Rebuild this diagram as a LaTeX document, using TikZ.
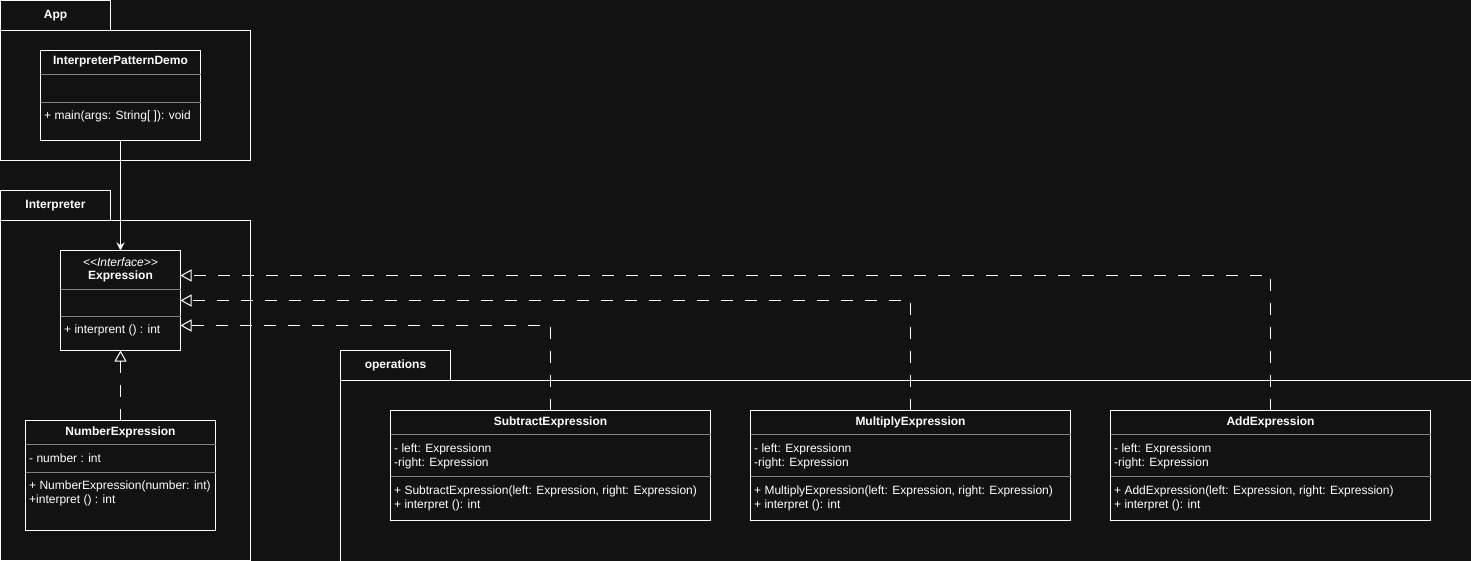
\documentclass[tikz,border=0pt]{standalone}
\usepackage{fontspec}
\setmainfont{Liberation Sans}
\usetikzlibrary{arrows.meta,positioning}

\definecolor{bgdark}{RGB}{18,18,18}
\definecolor{sepgrey}{RGB}{130,130,130}

\tikzset{
    box/.style={draw=white, line width=1pt, inner sep=0pt, outer sep=0pt, anchor=north west},
    pkgtab/.style={box, minimum width=110, minimum height=30, text=white, font=\bfseries\fontsize{12}{14}\selectfont},
    title/.style={text=white, inner sep=0pt, font=\bfseries\fontsize{12}{14}\selectfont},
    member/.style={text=white, inner sep=0pt, anchor=west, text height=9pt, text depth=3pt, font=\fontsize{12}{14}\selectfont},
    sep/.style={draw=sepgrey, line width=1pt},
    assoc/.style={draw=white, line width=1pt, -{Stealth[length=8pt, width=8pt]}},
    realize/.style={draw=white, line width=1pt, dash pattern=on 12pt off 12pt, -{Triangle[open, length=11pt, width=12pt]}},
}

\begin{document}
\begin{tikzpicture}[x=1pt, y=-1pt]
    \fill[bgdark] (0,0) rectangle (1471,561);
    \useasboundingbox (0,0) rectangle (1471,561);
    \clip (0,0) rectangle (1471,561);

    % package App
    \node[pkgtab] (apptab) at (0.5,0.5) {App};
    \node[box, minimum width=250, minimum height=130] (appbody) at (0.5,30.5) {};

    % package Interpreter
    \node[pkgtab] (inttab) at (0.5,190.5) {Interpreter};
    \node[box, minimum width=250, minimum height=340] (intbody) at (0.5,220.5) {};

    % package operations
    \node[pkgtab] (optab) at (340.5,350.5) {operations};
    \node[box, minimum width=1150, minimum height=200] (opbody) at (340.5,380.5) {};

    % class InterpreterPatternDemo
    \node[box, minimum width=160, minimum height=90] (demo) at (40.5,50.5) {};
    \draw[sep] (40.5,74.5) -- (200.5,74.5);
    \draw[sep] (40.5,102.5) -- (200.5,102.5);
    \node[title] (demoname) at (120.5,62) {InterpreterPatternDemo};
    \node[member] (demomain) at (44,117) {+ main(args: String[ ]): void};

    % interface Expression
    \node[box, minimum width=120, minimum height=100] (expr) at (60.5,250.5) {};
    \draw[sep] (60.5,289.5) -- (180.5,289.5);
    \draw[sep] (60.5,316.5) -- (180.5,316.5);
    \node[text=white, inner sep=0pt, font=\itshape\fontsize{12}{14}\selectfont] (exprstereo) at (120.5,262) {<{}<Interface>{}>};
    \node[title] (exprname) at (120.5,276) {Expression};
    \node[member] (exprop) at (64,330) {+ interprent () : int};

    % class NumberExpression
    \node[box, minimum width=190, minimum height=110] (num) at (25.5,420.5) {};
    \draw[sep] (25.5,444.5) -- (215.5,444.5);
    \draw[sep] (25.5,472.5) -- (215.5,472.5);
    \node[title] (numname) at (120.5,432) {NumberExpression};
    \node[member] (numfield) at (29,459) {- number : int};
    \node[member] (numctor) at (29,486) {+ NumberExpression(number: int)};
    \node[member] (numop) at (29,500) {+interpret () : int};

    % class SubtractExpression
    \node[box, minimum width=320, minimum height=110] (sub) at (390.5,410.5) {};
    \draw[sep] (390.5,434.5) -- (710.5,434.5);
    \draw[sep] (390.5,476.5) -- (710.5,476.5);
    \node[title] (subname) at (550.5,422) {SubtractExpression};
    \node[member] (subleft) at (394,449) {- left: Expressionn};
    \node[member] (subright) at (394,463) {-right: Expression};
    \node[member] (subctor) at (394,491) {+ SubtractExpression(left: Expression, right: Expression)};
    \node[member] (subop) at (394,505) {+ interpret (): int};

    % class MultiplyExpression
    \node[box, minimum width=320, minimum height=110] (mul) at (750.5,410.5) {};
    \draw[sep] (750.5,434.5) -- (1070.5,434.5);
    \draw[sep] (750.5,476.5) -- (1070.5,476.5);
    \node[title] (mulname) at (910.5,422) {MultiplyExpression};
    \node[member] (mulleft) at (754,449) {- left: Expressionn};
    \node[member] (mulright) at (754,463) {-right: Expression};
    \node[member] (mulctor) at (754,491) {+ MultiplyExpression(left: Expression, right: Expression)};
    \node[member] (mulop) at (754,505) {+ interpret (): int};

    % class AddExpression
    \node[box, minimum width=320, minimum height=110] (add) at (1110.5,410.5) {};
    \draw[sep] (1110.5,434.5) -- (1430.5,434.5);
    \draw[sep] (1110.5,476.5) -- (1430.5,476.5);
    \node[title] (addname) at (1270.5,422) {AddExpression};
    \node[member] (addleft) at (1114,449) {- left: Expressionn};
    \node[member] (addright) at (1114,463) {-right: Expression};
    \node[member] (addctor) at (1114,491) {+ AddExpression(left: Expression, right: Expression)};
    \node[member] (addop) at (1114,505) {+ interpret (): int};

    % demo uses Expression
    \draw[assoc] (demo.south) -- (expr.north);

    % realizations of Expression
    \draw[realize] (num.north) -- (expr.south);
    \draw[realize] (sub.north) |- ([yshift=-25pt]expr.east);
    \draw[realize] (mul.north) |- (expr.east);
    \draw[realize] (add.north) |- ([yshift=25pt]expr.east);
\end{tikzpicture}
\end{document}
